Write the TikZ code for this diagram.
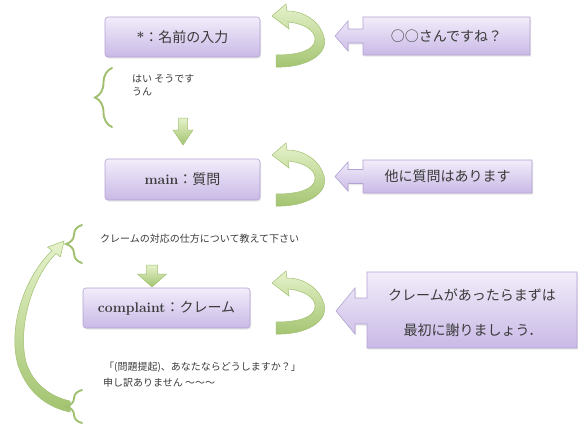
\documentclass[tikz,border=0pt]{standalone}
\usepackage{fontspec}
\newfontfamily\jp{Noto Sans CJK JP}
\usetikzlibrary{shadows,decorations.pathreplacing}
\definecolor{txt}{HTML}{3A3A3A}
\definecolor{boxtop}{HTML}{F2EDFA}
\definecolor{boxbot}{HTML}{C9B9E6}
\definecolor{boxline}{HTML}{B3A3D4}
\definecolor{grtop}{HTML}{E6F2CB}
\definecolor{grbot}{HTML}{A3C470}
\definecolor{grline}{HTML}{A0C070}
\newcommand\greenturn[1]{%
  \begin{scope}[shift={(0,#1)}]
    \path[greenshape] (276,67) .. controls (305,68) and (329,55) .. (324,37)
      .. controls (320,22) and (305,11) .. (287,11) -- (286,4) -- (272,16) -- (289,29) -- (288,22)
      .. controls (302,23) and (316,30) .. (315,40)
      .. controls (314,50) and (300,55) .. (276,55) -- cycle;
  \end{scope}}
\begin{document}
\begin{tikzpicture}[x=1pt,y=-1pt,
  mainbox/.style={rounded corners=3pt, top color=boxtop, bottom color=boxbot, draw=boxline,
    line width=0.6pt, drop shadow={opacity=0.18, shadow xshift=1pt, shadow yshift=-1.5pt},
    inner sep=0pt, text=txt, font=\fontsize{14}{16}\selectfont},
  callshape/.style={top color=boxtop, bottom color=boxbot, draw=boxline, line width=0.6pt,
    drop shadow={opacity=0.18, shadow xshift=1pt, shadow yshift=-1.5pt}},
  calltext/.style={text=txt, font=\jp\fontsize{14}{16}\selectfont, inner sep=0pt},
  plain/.style={text=txt, font=\jp\fontsize{10}{12}\selectfont, anchor=west, inner sep=0pt},
  greenshape/.style={top color=grtop, bottom color=grbot, draw=grline, line width=0.5pt},
  greenbrace/.style={draw=grline, line width=1.9pt, line cap=round, decorate, decoration={brace, amplitude=#1}}]
\fill[white] (0,0) rectangle (581,424);
\useasboundingbox (0,0) rectangle (581,424);

% main boxes
\node[mainbox, minimum width=155pt, minimum height=40pt] (b1) at (182.5,37) {\bfseries *\jp\mdseries：名前の入力};
\node[mainbox, minimum width=155pt, minimum height=41pt] (b2) at (182.5,179.5) {\bfseries main\jp\mdseries：質問};
\node[mainbox, minimum width=167pt, minimum height=40pt] (b3) at (166.5,308) {\bfseries complaint\jp\mdseries：クレーム};

% callouts
\path[callshape] (363,17) -- (530,17) -- (530,55) -- (363,55) -- (363,43) -- (348,43) -- (348,51)
  -- (335,36) -- (348,21) -- (348,29) -- (363,29) -- cycle;
\node[calltext] (c1) at (446.5,36) {○○さんですね？};
\path[callshape] (363,160) -- (532,160) -- (532,193) -- (363,193) -- (363,183.5) -- (348,183.5) -- (348,191)
  -- (335,176.5) -- (348,162) -- (348,169.5) -- (363,169.5) -- cycle;
\node[calltext] (c2) at (447.5,176.5) {他に質問はあります};
\path[callshape] (367,272) -- (577,272) -- (577,348) -- (367,348) -- (367,324) -- (355,324) -- (355,334)
  -- (336,311) -- (355,288) -- (355,298) -- (367,298) -- cycle;
\node[calltext] (c3a) at (472,295) {クレームがあったらまずは};
\node[calltext] (c3b) at (473,330) {最初に謝りましょう．};

% curved turn arrows
\greenturn{0}
\greenturn{139}
\greenturn{267}

% down arrows
\path[greenshape] (178.5,118) -- (187.5,118) -- (187.5,130) -- (193,130) -- (183,145) -- (173,130) -- (178.5,130) -- cycle;
\path[greenshape] (146.5,265) -- (157.5,265) -- (157.5,274) -- (166.5,274) -- (152,287) -- (137.5,274) -- (146.5,274) -- cycle;

% big return arrow
\path[greenshape] (52,250.5) .. controls (22,280) and (8,330) .. (18,365)
  .. controls (28,395) and (50,408) .. (70,412) -- (70,401)
  .. controls (52,397) and (33,385) .. (26,362)
  .. controls (18,330) and (30,280) .. (56,253.5) -- (60.4,256.8) -- (64,241) -- (47.6,247.2) -- cycle;

% braces
\draw[greenbrace=17pt] (112,127) -- (112,68);
\draw[greenbrace=16pt] (82,263) -- (82,225);
\draw[greenbrace=16pt] (82,423) -- (82,390);

% plain texts
\node[plain] (t1a) at (132,79) {はい そうです};
\node[plain] (t1b) at (132,92) {うん};
\node[plain] (t2) at (100,239) {クレームの対応の仕方について教えて下さい};
\node[plain] (t3a) at (104,367) {「(問題提起)、あなたならどうしますか？」};
\node[plain] (t3b) at (103,383) {申し訳ありません ～～～};
\end{tikzpicture}
\end{document}
